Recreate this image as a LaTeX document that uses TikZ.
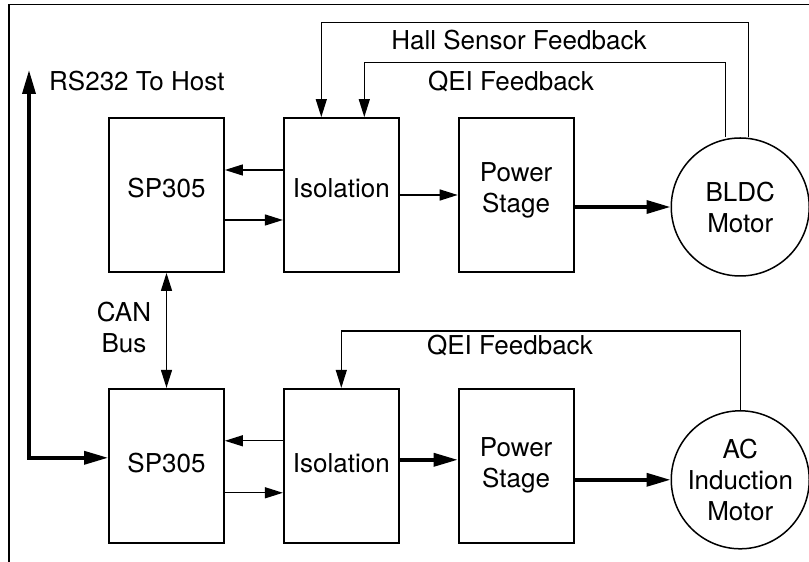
\documentclass[tikz,border=0pt]{standalone}
\usepackage{fontspec}
\setmainfont{TeX Gyre Heros}
\usetikzlibrary{arrows.meta,positioning,calc}
\tikzset{bigtip/.tip={Triangle[length=24pt,width=13pt]}}

\begin{document}
\begin{tikzpicture}[x=1pt, y=1pt, node distance=115pt and 58pt, block/.style={draw, line width=1.8pt, minimum width=115pt, minimum height=154pt, inner sep=0pt, align=center, font=\fontsize{26}{31}\selectfont}, upper/.style={text depth=14pt}, lower/.style={text depth=6pt}, motor/.style={draw, circle, line width=1.5pt, minimum size=138pt, inner sep=0pt, align=center, font=\fontsize{26}{31}\selectfont}, lbl/.style={inner sep=0pt, align=center, font=\fontsize{26}{31}\selectfont}, sig/.style={line width=1.3pt, ->}, bus/.style={line width=3.5pt}, >={Triangle[length=18pt,width=11pt]}]
\useasboundingbox (0,0) rectangle (809,562);
\draw[line width=1.8pt] (9,0) -- (9,557.5) -- (809,557.5);
\node[block, upper] (sp1) at (166.5,367) {SP305};
\node[block, upper, right=of sp1] (iso1) {Isolation};
\node[block, upper, right=of iso1] (ps1) {Power\\Stage};
\node[block, lower, below=of sp1] (sp2) {SP305};
\node[block, lower, right=of sp2] (iso2) {Isolation};
\node[block, lower, right=of iso2] (ps2) {Power\\Stage};
\node[motor, right=96pt of ps1, yshift=-12pt] (bldc) {BLDC\\Motor};
\node[motor, right=96pt of ps2, yshift=-14pt] (ac) {AC\\Induction\\Motor};
\node[lbl, anchor=base] (hall) at (519,512) {Hall Sensor Feedback};
\node[lbl, anchor=base] (qei1) at (511,471) {QEI Feedback};
\node[lbl, anchor=base] (qei2) at (510,207) {QEI Feedback};
\node[lbl, anchor=base west] (rs) at (49,471) {RS232 To Host};
\node[lbl] (can) at (124,235) {CAN\\Bus};
\coordinate (host) at (29,492);
\draw[sig] ([yshift=25pt]iso1.west) -- ([yshift=25pt]sp1.east);
\draw[sig] ([yshift=-25pt]sp1.east) -- ([yshift=-25pt]iso1.west);
\draw[sig] (iso1) -- (ps1);
\draw[bus, -bigtip] (ps1.east |- bldc) -- (bldc);
\draw[sig] ([yshift=25pt]iso2.west) -- ([yshift=25pt]sp2.east);
\draw[sig] ([yshift=-27pt]sp2.east) -- ([yshift=-27pt]iso2.west);
\draw[bus, -bigtip] ([yshift=6pt]iso2.east) -- ([yshift=6pt]ps2.west);
\draw[bus, -bigtip] (ps2.east |- ac) -- (ac);
\draw[sig, <->] (sp1) -- (sp2);
\draw[bus, bigtip-bigtip] (host) |- ([yshift=8pt]sp2.west);
\draw[sig] ([xshift=8pt]bldc.north) -- ++(0,115) -| ([xshift=-20pt]iso1.north);
\draw[sig] ([xshift=-15pt]bldc.north) -- ++(0,75) -| ([xshift=23pt]iso1.north);
\draw[sig] (ac.north) -- ++(0,79) -| (iso2.north);
\end{tikzpicture}
\end{document}
